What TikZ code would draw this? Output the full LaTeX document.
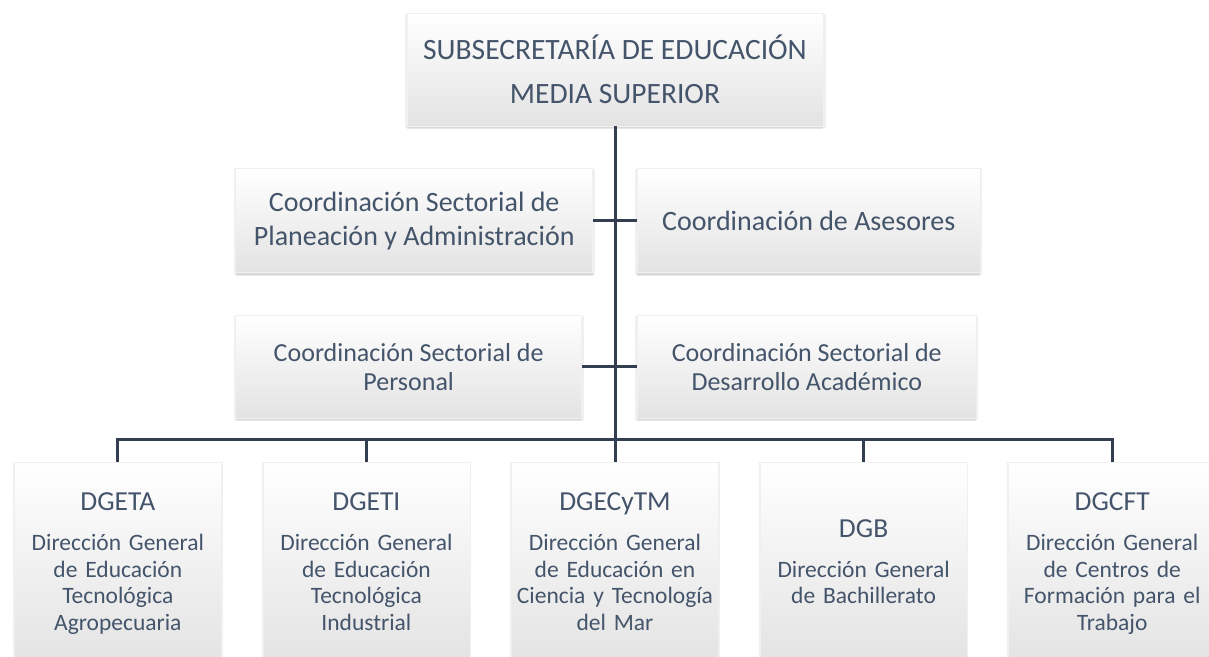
\documentclass[tikz,border=0pt]{standalone}
\usepackage{fontspec}
\setmainfont{Carlito}
\usepackage{xcolor}
\usetikzlibrary{positioning,shadows}
\definecolor{textblue}{HTML}{44546A}
\definecolor{linkblue}{HTML}{333F50}
\tikzset{box/.style={rectangle,draw=black!6,line width=0.6pt,top color=white,middle color=white,bottom color=black!11,
            text=textblue,align=center,inner sep=3pt,
            drop shadow={shadow xshift=0pt,shadow yshift=-3pt,opacity=.2},
            drop shadow={shadow xshift=0pt,shadow yshift=-1.5pt,shadow scale=1.012,opacity=.12}},
         top node/.style={box,minimum width=416pt,minimum height=113pt,font=\fontsize{29.5}{44}\selectfont},
         coord node/.style={box,minimum height=104pt,font=\fontsize{28}{34}\selectfont},
         sect node/.style={box,minimum height=103pt,font=\fontsize{26}{29}\selectfont},
         dir node/.style={box,minimum width=207pt,minimum height=202pt,text width=200pt,font=\fontsize{23.5}{26.7}\selectfont},
         link/.style={draw=linkblue,line width=3pt},
            }
\newcommand{\sigla}[1]{{\fontsize{27.5}{33}\selectfont\strut #1}\\[13.3pt]}

\begin{document}
\begin{tikzpicture}[x=1pt,y=-1pt]
    \useasboundingbox (0,0) rectangle (1209,656);

    \node[top node] (1) at (615,69.5) {SUBSECRETARÍA DE EDUCACIÓN\\MEDIA SUPERIOR};

    \node[coord node,minimum width=357pt] (2) [below left = 42pt and 22pt of 1.south]  {Coordinación Sectorial de\\Planeación y Administración};
    \node[coord node,minimum width=343pt] (3) [below right = 42pt and 22pt of 1.south] {Coordinación de Asesores};
    \node[sect node,minimum width=346pt] (4) [below right = 42pt and 0pt of 2.south west] {Coordinación Sectorial de\\Personal};
    \node[sect node,minimum width=339pt] (5) [below right = 42pt and 0pt of 3.south west] {Coordinación Sectorial de\\Desarrollo Académico};

    \coordinate (mid) at (1.south |- 5.south);
    \coordinate[below = 21pt of mid] (bus);

    \node[dir node] (8) [below = 22pt of bus] {\sigla{DGECyTM}Dirección General\\de Educación en\\Ciencia y Tecnología\\del Mar\strut};
    \node[dir node] (7) [left = 41pt of 8] {\sigla{DGETI}Dirección General\\de Educación\\Tecnológica\\Industrial\strut};
    \node[dir node] (6) [left = 41pt of 7] {\sigla{DGETA}Dirección General\\de Educación\\Tecnológica\\Agropecuaria\strut};
    \node[dir node] (9) [right = 41pt of 8] {\sigla{DGB}Dirección General\\de Bachillerato\strut};
    \node[dir node] (10) [right = 41pt of 9] {\sigla{DGCFT}Dirección General\\de Centros de\\Formación para el\\Trabajo\strut};

    \path[link]
    (1) -- (8)
    (2) -- (2 -| 1) (3) -- (3 -| 1)
    (4) -- (4 -| 1) (5) -- (5 -| 1)
    (6) |- (bus) -| (10)
    (7) -- (7 |- bus) (9) -- (9 |- bus);

\end{tikzpicture}
\end{document}
